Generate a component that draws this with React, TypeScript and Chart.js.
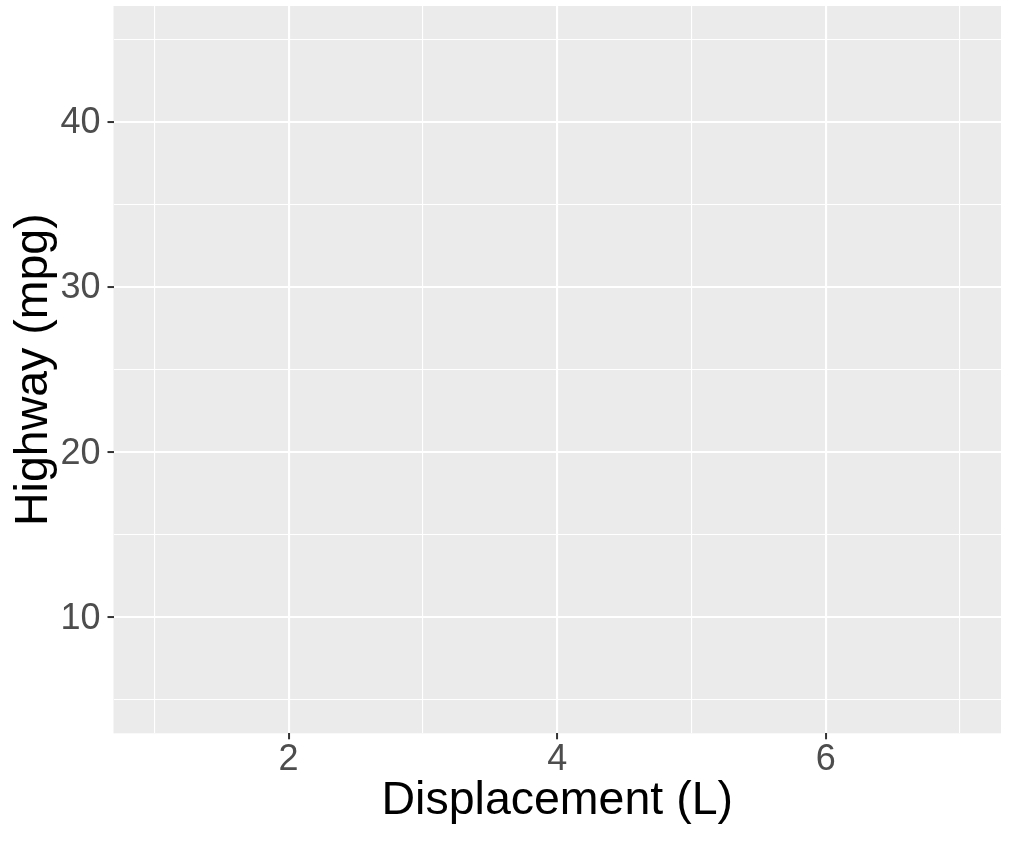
import React, { useEffect, useRef } from "react";
import { Chart, registerables } from "chart.js";

Chart.register(...registerables);

// Axis ranges (data limits incl. expansion) and tick values
const xMin = 0.696;
const xMax = 7.305;
const yMin = 2.98;
const yMax = 47.02;
const xMajorTicks = [2, 4, 6];
const xMinorTicks = [1, 3, 5, 7];
const yMajorTicks = [10, 20, 30, 40];
const yMinorTicks = [5, 15, 25, 35, 45];
const xTitle = "Displacement (L)";
const yTitle = "Highway (mpg)";

const W = 1009;
const H = 842;
const AREA_LEFT = 113.5;
const AREA_TOP = 6;
const AREA_RIGHT = 1001;
const AREA_BOTTOM = 733.3;

const FONT = "'Liberation Sans', Arial, sans-serif";

const panelBg = {
  id: "panelBg",
  beforeDraw(chart: any) {
    const { ctx, chartArea } = chart;
    ctx.save();
    ctx.fillStyle = "#EBEBEB";
    ctx.fillRect(chartArea.left, chartArea.top, chartArea.right - chartArea.left, chartArea.bottom - chartArea.top);
    ctx.restore();
  },
};

export default function App() {
  const ref = useRef<HTMLCanvasElement>(null);
  useEffect(() => {
    document.body.style.margin = "0";
    const allX = [...xMajorTicks, ...xMinorTicks].sort((a, b) => a - b);
    const allY = [...yMajorTicks, ...yMinorTicks].sort((a, b) => a - b);
    const isMajorX = (v: number) => xMajorTicks.includes(v);
    const isMajorY = (v: number) => yMajorTicks.includes(v);
    const chart = new Chart(ref.current as HTMLCanvasElement, {
      type: "scatter",
      data: { datasets: [{ data: [] as any[] }] },
      plugins: [panelBg],
      options: {
        animation: false,
        responsive: false,
        events: [],
        layout: { padding: { top: AREA_TOP, right: W - AREA_RIGHT, bottom: 0, left: 0 } },
        plugins: { legend: { display: false }, tooltip: { enabled: false } },
        scales: {
          x: {
            type: "linear",
            min: xMin,
            max: xMax,
            afterBuildTicks: (s: any) => {
              s.ticks = allX.map((v) => ({ value: v }));
            },
            afterFit: (s: any) => {
              s.height = H - AREA_BOTTOM;
              s.paddingLeft = 0;
              s.paddingRight = 0;
            },
            border: { display: false },
            grid: {
              color: "#FFFFFF",
              lineWidth: (c: any) => (isMajorX(c.tick?.value) ? 2.1 : 1.1),
              tickColor: (c: any) => (isMajorX(c.tick?.value) ? "#333333" : "rgba(0,0,0,0)"),
              tickLength: 6,
              tickWidth: 2,
            },
            ticks: {
              autoSkip: false,
              maxRotation: 0,
              padding: 3,
              color: "#4D4D4D",
              font: { family: FONT, size: 36, lineHeight: 1 },
              callback: (v: any) => (isMajorX(Number(v)) ? String(v) : ""),
            },
            title: {
              display: true,
              text: xTitle,
              color: "#000000",
              font: { family: FONT, size: 46.5, lineHeight: 1.2 },
              padding: { top: 0, bottom: 13 },
            },
          },
          y: {
            type: "linear",
            min: yMin,
            max: yMax,
            afterBuildTicks: (s: any) => {
              s.ticks = allY.map((v) => ({ value: v }));
            },
            afterFit: (s: any) => {
              s.width = AREA_LEFT;
              s.paddingTop = 0;
              s.paddingBottom = 0;
            },
            border: { display: false },
            grid: {
              color: "#FFFFFF",
              lineWidth: (c: any) => (isMajorY(c.tick?.value) ? 2.1 : 1.1),
              tickColor: (c: any) => (isMajorY(c.tick?.value) ? "#333333" : "rgba(0,0,0,0)"),
              tickLength: 6,
              tickWidth: 2,
            },
            ticks: {
              autoSkip: false,
              padding: 7,
              labelOffset: 1.5,
              color: "#4D4D4D",
              font: { family: FONT, size: 36 },
              callback: (v: any) => (isMajorY(Number(v)) ? String(v) : ""),
            },
            title: {
              display: true,
              text: yTitle,
              color: "#000000",
              font: { family: FONT, size: 46.5, lineHeight: 1.2 },
              padding: { top: 6.5, bottom: 0 },
            },
          },
        },
      } as any,
    });
    return () => chart.destroy();
  }, []);
  return (
    <div style={{ position: "absolute", left: 0, top: 0, width: W, height: H, background: "#FFFFFF" }}>
      <canvas ref={ref} width={W} height={H} style={{ width: W, height: H, display: "block" }} />
    </div>
  );
}
